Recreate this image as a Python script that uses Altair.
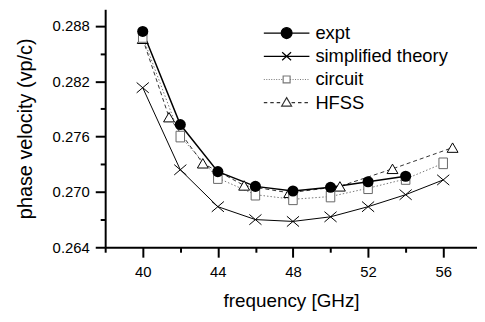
import altair as alt
import pandas as pd

# ---------------- data ----------------
series = ["expt", "simplified theory", "circuit", "HFSS"]

expt_f = [40, 42, 44, 46, 48, 50, 52, 54]
expt_v = [0.2874, 0.2773, 0.2722, 0.2706, 0.2701, 0.2705, 0.2711, 0.2717]

simp_f = [40, 42, 44, 46, 48, 50, 52, 54, 56]
simp_v = [0.2813, 0.2724, 0.2684, 0.2670, 0.2668, 0.2673, 0.2684, 0.2697, 0.2713]

circ_f = [40, 42, 44, 46, 48, 50, 52, 54, 56]
circ_v = [0.2868, 0.2760, 0.2715, 0.2697, 0.2692, 0.2695, 0.2704, 0.2714, 0.2731]

hfss_f = [40, 41.4, 43.2, 45.4, 47.8, 50.5, 53.3, 56.5]
hfss_v = [0.2866, 0.2781, 0.2731, 0.2707, 0.2699, 0.2706, 0.2725, 0.2748]

x_ticks = [38, 40, 42, 44, 46, 48, 50, 52, 54, 56]
y_ticks = [0.264, 0.267, 0.270, 0.273, 0.276, 0.279, 0.282, 0.285, 0.288]

FONT = "Liberation Sans"


def frame(name, f, v):
    return pd.DataFrame({"series": name, "f": f, "v": v})


d_expt = frame("expt", expt_f, expt_v)
d_simp = frame("simplified theory", simp_f, simp_v)
d_circ = frame("circuit", circ_f, circ_v)
d_hfss = frame("HFSS", hfss_f, hfss_v)
d_all = pd.concat([d_expt, d_simp, d_circ, d_hfss], ignore_index=True)

# ---------------- axes ----------------
xaxis = alt.Axis(
    values=x_ticks,
    labelExpr="datum.value % 4 == 0 ? datum.label : ''",
    tickSize={"condition": {"test": "datum.value % 4 == 0", "value": 10}, "value": 5},
    tickWidth=2, tickColor="black", domainWidth=2, domainColor="black",
    labelFont=FONT, labelFontSize=15, labelColor="black", labelPadding=7,
    labelFlush=False,
    titleFont=FONT, titleFontSize=19, titleFontWeight="normal", titleColor="black",
    titlePadding=13, grid=False,
)
yaxis = alt.Axis(
    values=y_ticks,
    labelExpr="round(datum.value*1000) % 6 == 0 ? format(datum.value, '.3f') : ''",
    tickSize={"condition": {"test": "round(datum.value*1000) % 6 == 0", "value": 10}, "value": 5},
    tickWidth=2, tickColor="black", domainWidth=2, domainColor="black",
    labelFont=FONT, labelFontSize=15, labelColor="black", labelPadding=6,
    labelFlush=False,
    titleFont=FONT, titleFontSize=20, titleFontWeight="normal", titleColor="black",
    titlePadding=17, grid=False,
)

X = alt.X("f:Q", scale=alt.Scale(domain=[38, 57.8], nice=False, zero=False),
          axis=xaxis, title="frequency [GHz]")
Y = alt.Y("v:Q", scale=alt.Scale(domain=[0.264, 0.2898], nice=False, zero=False),
          axis=yaxis, title="phase velocity (vp/c)")

# ---------------- lines ----------------
l_circ = alt.Chart(d_circ).mark_line(color="#777777", strokeWidth=1, strokeDash=[1.5, 2]).encode(x=X, y=Y)
l_hfss = alt.Chart(d_hfss).mark_line(color="#333333", strokeWidth=1, strokeDash=[4, 3]).encode(x=X, y=Y)
l_simp = alt.Chart(d_simp).mark_line(color="black", strokeWidth=1).encode(x=X, y=Y)
l_expt = alt.Chart(d_expt).mark_line(color="black", strokeWidth=1.5).encode(x=X, y=Y)

# ---------------- markers ----------------
m_hfss = alt.Chart(d_hfss).mark_point(shape="triangle-up", filled=True, fill="white", stroke="black",
                                      strokeWidth=1, size=120, opacity=1).encode(x=X, y=Y)
m_circ = alt.Chart(d_circ).mark_point(shape="M-0.8,-1H0.8V1H-0.8Z", filled=True, fill="white",
                                      stroke="#666666", strokeWidth=1, size=115, opacity=1).encode(x=X, y=Y)
m_simp = alt.Chart(d_simp).mark_point(shape="M-1,-0.85L1,0.85M-1,0.85L1,-0.85", stroke="black",
                                      strokeWidth=1, size=150, opacity=1).encode(x=X, y=Y)
m_expt = alt.Chart(d_expt).mark_point(shape="circle", filled=True, color="black", size=125,
                                      opacity=1).encode(x=X, y=Y)

# ---------------- legend symbols (line + marker drawn as one path) ----------------
W = 46.0
u = 2.0 / W  # path units per pixel


def segs(x0, x1, dash, gap):
    out, x = [], x0
    while x < x1 - 1e-9:
        e = min(x + dash * u, x1)
        out.append(f"M{x:.3f},0H{e:.3f}")
        x = e + gap * u
    return "".join(out)


r = 5.5 * u
p_expt = f"M-1,0H1M{-r:.3f},0A{r:.3f},{r:.3f} 0 1,0 {r:.3f},0A{r:.3f},{r:.3f} 0 1,0 {-r:.3f},0Z"
ax, ay = 4.5 * u, 4.0 * u
p_simp = f"M-1,0H1M{-ax:.3f},{-ay:.3f}L{ax:.3f},{ay:.3f}M{-ax:.3f},{ay:.3f}L{ax:.3f},{-ay:.3f}"
s = 3.5 * u
p_circ = (segs(-1, -s, 1, 1.5) + segs(s, 1, 1, 1.5)
          + f"M{-s:.3f},{-s:.3f}H{s:.3f}V{s:.3f}H{-s:.3f}Z")
tb, th = 5.0 * u, 8.5 * u
p_hfss = (segs(-1, -tb, 3.5, 3) + segs(tb, 1, 3.5, 3)
          + f"M0,{-th * 0.6:.3f}L{tb:.3f},{th * 0.4:.3f}H{-tb:.3f}Z")

legend = alt.Legend(title=None)
leg = alt.Chart(d_all).transform_filter("false").mark_point(filled=True, opacity=1).encode(
    x=X, y=Y,
    shape=alt.Shape("series:N", scale=alt.Scale(domain=series, range=[p_expt, p_simp, p_circ, p_hfss]),
                    legend=legend),
    fill=alt.Fill("series:N", scale=alt.Scale(domain=series, range=["black", "white", "white", "white"]),
                  legend=legend),
    stroke=alt.Stroke("series:N", scale=alt.Scale(domain=series, range=["black", "black", "#777777", "#333333"]),
                      legend=legend),
)

chart = alt.layer(
    l_circ, l_hfss, l_simp, l_expt, m_hfss, m_circ, m_simp, m_expt, leg
).properties(
    width=375, height=240,
    padding={"left": 7, "top": 0, "right": 0, "bottom": 0},
).configure_view(stroke=None).configure_legend(
    orient="none", legendX=159, legendY=14, padding=0,
    clipHeight=20, rowPadding=3.4, symbolSize=W * W, symbolStrokeWidth=1.2,
    labelFont=FONT, labelFontSize=18.5, labelOffset=5, labelColor="black",
)

chart.save("out.html", embed_options={"renderer": "svg", "actions": False})
